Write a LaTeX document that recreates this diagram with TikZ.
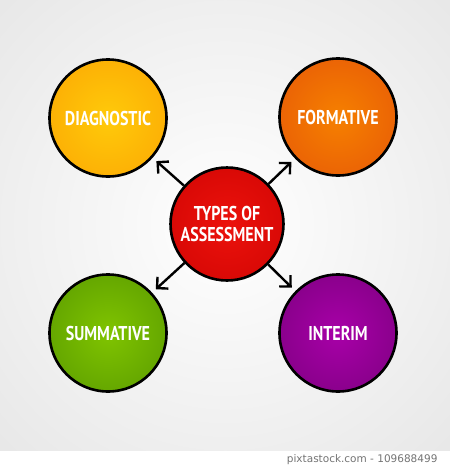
\documentclass[tikz,border=0pt]{standalone}
\usepackage{fontspec}
\usepackage{xcolor}
\usepackage{tikz}
\usetikzlibrary{positioning}
\usetikzlibrary{arrows.meta,calc}
\newfontfamily\topicfont[FakeStretch=0.8]{PT Sans}
\newfontfamily\notefont{DejaVu Sans}
\definecolor{bgin}{RGB}{255,255,255}
\definecolor{bgout}{RGB}{222,222,222}
\definecolor{diagin}{RGB}{255,202,10}
\definecolor{diagout}{RGB}{250,152,0}
\definecolor{formin}{RGB}{246,128,0}
\definecolor{formout}{RGB}{224,72,10}
\definecolor{ctrin}{RGB}{236,18,12}
\definecolor{ctrout}{RGB}{198,0,0}
\definecolor{summin}{RGB}{128,196,0}
\definecolor{summout}{RGB}{74,138,0}
\definecolor{intin}{RGB}{168,0,168}
\definecolor{intout}{RGB}{108,0,112}
\colorlet{discin}{white}
\colorlet{discout}{white}
\pgfdeclareradialshading[discin,discout]{disc}{\pgfpointorigin}{color(0bp)=(discin); color(50bp)=(discout)}
\tikzstyle{topic}=[circle,draw=black,line width=2.6pt,inner sep=0pt,text=white,align=center,font=\topicfont\bfseries\fontsize{20}{21}\selectfont]
\tikzstyle{link}=[draw,line width=2.4pt,-{Straight Barb[length=8pt,width=16pt]},shorten >=5pt]
\tikzstyle{note}=[font=\notefont\fontsize{10.5}{12}\selectfont,text=black!55]

\begin{document}
\begin{tikzpicture}[x=1pt,y=-1pt]
    \useasboundingbox (0,0) rectangle (450,469);
    % backdrop
    \colorlet{discin}{bgin}\colorlet{discout}{bgout}
    \shade[shading=disc] (0,0) rectangle (450,450);

    % the five circles
    \foreach \pos/\name/\label/\cin/\cout/\size in {{(108,118)/diag/DIAGNOSTIC/diagin/diagout/117pt},
    {(338,117)/form/FORMATIVE/formin/formout/117pt},
    {(108,333)/summ/SUMMATIVE/summin/summout/117pt},
    {(338,333)/inter/INTERIM/intin/intout/117pt},
    {(227,224)/ctr/{TYPES OF\\ASSESSMENT}/ctrin/ctrout/113pt}}
    {
        \colorlet{discin}{\cin}\colorlet{discout}{\cout}
        \node[topic,shading=disc,minimum size=\size] (\name) at \pos {\label};
    }

    % arrows from the centre
    \foreach \dest in {diag,form,summ,inter}
        \path[link] (ctr) -- (\dest);

    \node[note,anchor=east] (credit) at (441,460) {pixtastock.com - 109688499};
\end{tikzpicture}
\end{document}
